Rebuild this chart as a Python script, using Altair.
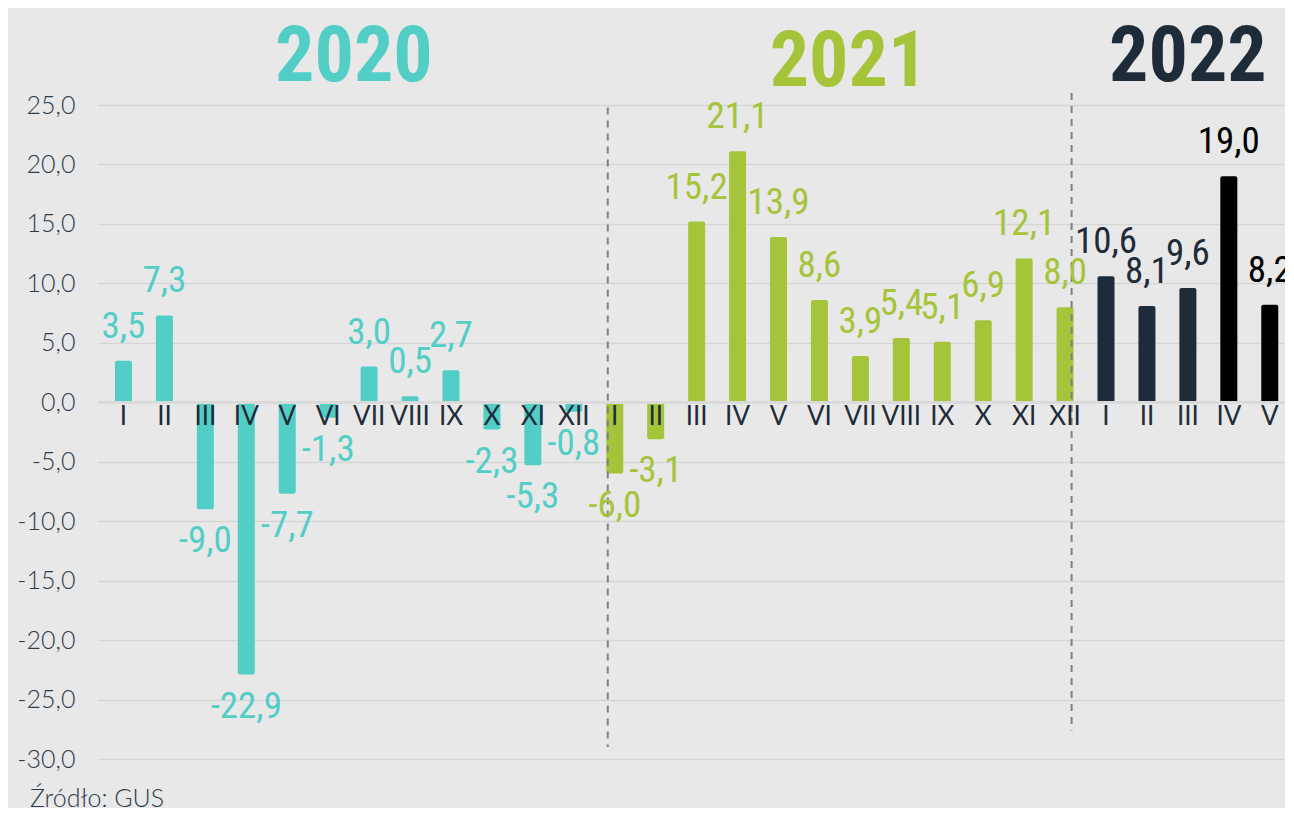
import altair as alt
import pandas as pd

# ---- data ----
months_2020 = ["I", "II", "III", "IV", "V", "VI", "VII", "VIII", "IX", "X", "XI", "XII"]
values_2020 = [3.5, 7.3, -9.0, -22.9, -7.7, -1.3, 3.0, 0.5, 2.7, -2.3, -5.3, -0.8]

months_2021 = ["I", "II", "III", "IV", "V", "VI", "VII", "VIII", "IX", "X", "XI", "XII"]
values_2021 = [-6.0, -3.1, 15.2, 21.1, 13.9, 8.6, 3.9, 5.4, 5.1, 6.9, 12.1, 8.0]

months_2022 = ["I", "II", "III", "IV", "V"]
values_2022 = [10.6, 8.1, 9.6, 19.0, 8.2]
series_2022 = ["2022", "2022", "2022", "2022b", "2022b"]

year_titles = ["2020", "2021", "2022"]
year_title_x = [5.63, 17.71, 26.0]      # position along the month index
year_title_y = [27.0, 26.6, 27.0]       # position on the value scale

separator_x = [11.83, 23.16]
separator_top = [24.8, 26.0]
separator_bottom = [-29.0, -27.6]

source_text = "Źródło: GUS"

series_domain = ["2020", "2021", "2022", "2022b"]
series_colors = ["#52CEC6", "#A5C43A", "#1E2B38", "#000000"]

# ---- build tables ----
rows = []
idx = 0
for months, values, series in [
    (months_2020, values_2020, ["2020"] * 12),
    (months_2021, values_2021, ["2021"] * 12),
    (months_2022, values_2022, series_2022),
]:
    for m, v, s in zip(months, values, series):
        rows.append({"idx": idx, "month": m, "value": v, "zero": 0.0, "series": s,
                     "label": f"{v:.1f}".replace(".", ",")})
        idx += 1
df = pd.DataFrame(rows)

years_df = pd.DataFrame({"year": year_titles, "xp": year_title_x, "yp": year_title_y,
                         "series": ["2020", "2021", "2022"]})
sep_df = pd.DataFrame({"sx": separator_x, "top": separator_top, "bottom": separator_bottom})
src_df = pd.DataFrame({"t": [source_text]})

NARROW = "'Liberation Sans Narrow', 'Roboto Condensed', sans-serif"
LIGHT = "Lato"
NAVY = "#1E2B38"

xscale = alt.Scale(domain=[-0.5, 28.25], nice=False, zero=False)
yscale = alt.Scale(domain=[-30, 25], nice=False, zero=False)
color = alt.Color("series:N", scale=alt.Scale(domain=series_domain, range=series_colors), legend=None)

X = alt.X("idx:Q", scale=xscale, axis=None)
Y = alt.Y("value:Q", scale=yscale,
          axis=alt.Axis(values=list(range(-30, 26, 5)),
                        labelExpr="replace(replace(format(datum.value, '.1f'), '.', ','), '\u2212', '-')",
                        title=None))

base = alt.Chart(df)

bars = base.mark_bar(size=17, cornerRadius=2).encode(x=X, y=Y, y2="zero:Q", color=color)

zero_rule = base.mark_rule(color="#d9d9d9", strokeWidth=2).encode(y=alt.Y("zero:Q"))

separators = alt.Chart(sep_df).mark_rule(color="#808080", strokeWidth=2, strokeDash=[7, 6]).encode(
    x=alt.X("sx:Q", scale=xscale, axis=None),
    y=alt.Y("top:Q", scale=yscale),
    y2="bottom:Q")

xlabels = base.mark_text(font=LIGHT, fontSize=26, color=NAVY, baseline="alphabetic", dy=23).encode(
    x=X, y=alt.Y("zero:Q"), text="month:N")

pos_labels = base.transform_filter("datum.value >= 0").mark_text(
    font=NARROW, fontSize=37, baseline="alphabetic", dy=-23).encode(
    x=X, y=alt.Y("value:Q"), text="label:N", color=color)

neg_labels = base.transform_filter("datum.value < 0").mark_text(
    font=NARROW, fontSize=37, baseline="alphabetic", dy=43).encode(
    x=X, y=alt.Y("value:Q"), text="label:N", color=color)

years = alt.Chart(years_df).mark_text(font=NARROW, fontSize=78, fontWeight="bold", baseline="alphabetic").encode(
    x=alt.X("xp:Q", scale=xscale, axis=None), y=alt.Y("yp:Q", scale=yscale), text="year:N", color=color)

source = alt.Chart(src_df).mark_text(font=LIGHT, fontSize=25, fontWeight=300, color="#2D3B48",
                                     align="left", baseline="alphabetic").encode(
    x=alt.value(-68), y=alt.value(702), text="t:N")

chart = alt.layer(bars, zero_rule, separators, xlabels, pos_labels, neg_labels, years, source).properties(
    width=1187, height=654,
    padding={"left": 90, "top": 97, "right": 0, "bottom": 49},
    autosize=alt.AutoSizeParams(type="none"),
    background="#E8E8E8",
).configure_view(stroke=None).configure_axisY(
    labelFont=LIGHT, labelFontSize=25, labelFontWeight=300, labelColor="#2D3B48",
    labelPadding=23, ticks=False, domain=False, grid=True, gridColor="#D5D5D5", gridWidth=1.5,
)

chart.save("out.html", embed_options={"renderer": "svg", "actions": False})
